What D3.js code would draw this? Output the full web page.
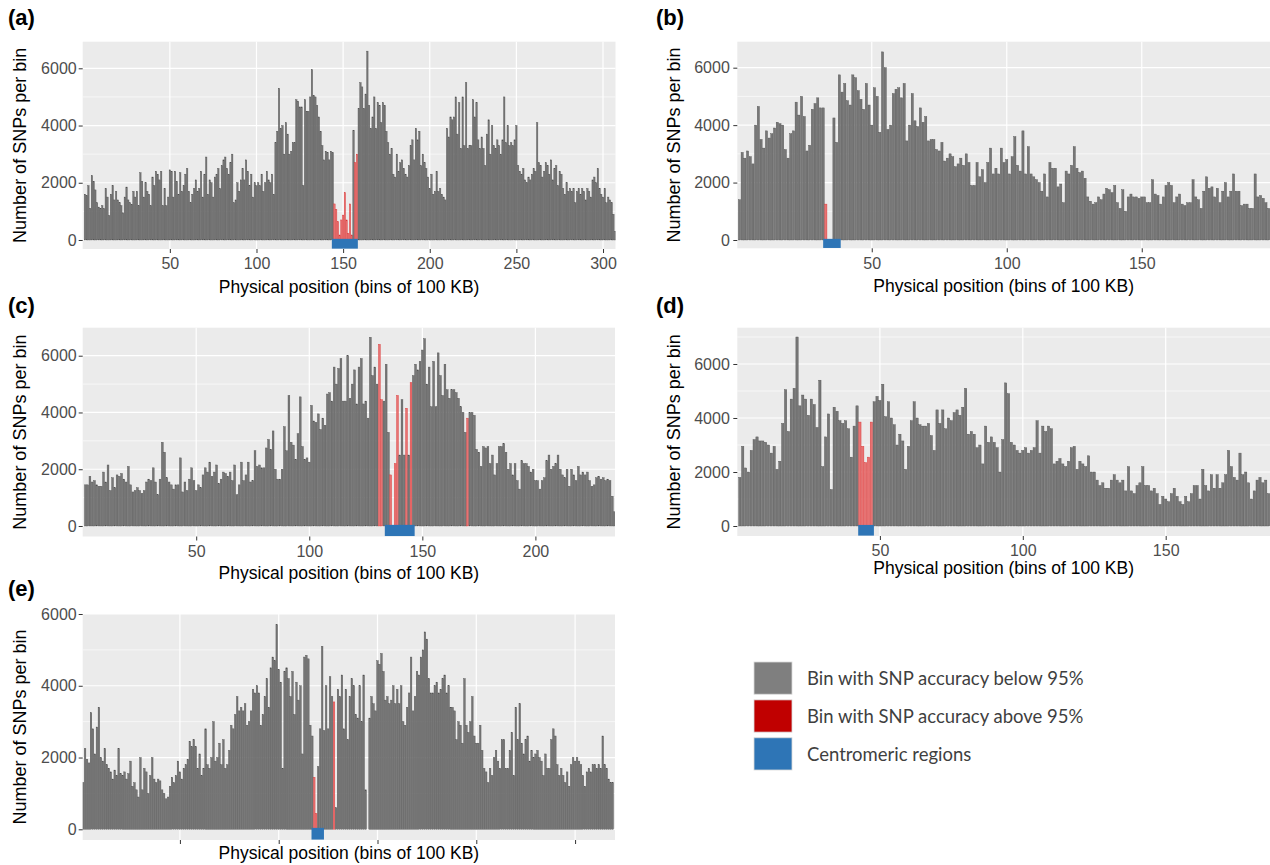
<!DOCTYPE html>
<html lang="en">
<head>
<meta charset="utf-8">
<title>SNPs per bin</title>
<script src="https://cdn.jsdelivr.net/npm/d3@7"></script>
<style>
body { margin: 0; background: #fff; }
svg { display: block; font-family: "Liberation Sans", Arial, sans-serif; }
.tick text { fill: #4d4d4d; font-size: 16px; }
.tick line { stroke: #333; }
.domain { display: none; }
.ttl { font-size: 17.5px; fill: #000; }
.lab { font-size: 22px; font-weight: bold; fill: #000; }
.leg { font-family: Lato, "Open Sans", sans-serif; font-size: 18.5px; fill: #3f3f3f; }
</style>
</head>
<body>
<svg id="chart" width="1270" height="865"></svg>
<script>
// ---- data: SNP counts per 100 KB bin ----
var aVals = [1600,1550,1900,1100,2250,2050,1750,1300,1150,1100,
  1200,1100,1800,1500,850,1600,1900,1400,1700,1400,
  1300,1200,950,1500,1850,1400,1300,1250,1700,1500,
  1700,1200,2350,2050,1500,2000,1700,1600,1200,2200,
  1900,2400,2300,2100,2400,1200,1800,1200,1500,2450,
  2400,1500,2400,2050,1600,2350,1700,1900,2300,2500,
  1700,1300,1600,1800,2100,1700,1800,2400,1500,2300,
  2900,1600,2100,2000,1500,2200,2300,2500,1800,2600,
  2800,2900,2500,2300,2700,3000,1300,1400,2000,1700,
  2100,2500,2100,2800,2400,1900,2300,1500,2000,1900,
  2000,1900,2300,1700,2000,2400,2100,2000,2300,1600,
  3400,3800,5300,3900,4000,3000,4100,3700,3000,3100,
  3400,3400,4900,4850,4650,4650,1900,4900,4500,4500,
  5000,5950,5050,5000,4700,4300,3800,3300,2800,3100,
  3050,2800,3100,3050,1260,1070,640,175,700,870,
  1650,700,230,1260,175,3830,2700,3000,4600,5500,
  5350,4600,5100,6600,4700,3900,4300,5000,3900,4800,
  4700,4100,4800,4700,3800,3400,3000,3200,2300,2200,
  3000,2400,2700,2800,2500,2300,2200,2600,3300,3500,
  2800,3900,3500,3800,2600,3000,2700,2500,2200,1800,
  2300,1600,1700,2400,1700,1800,1600,1500,1400,3900,
  3600,4300,4200,4300,5000,3700,4800,3200,5000,3300,
  5500,3200,3300,3300,4900,4300,4800,3500,3200,3600,
  3200,2600,3700,4200,3000,4000,3300,3200,3500,3300,
  3000,3500,5000,3400,4000,3300,3400,3300,3500,4000,
  2600,2400,2300,2500,2100,2000,2200,2100,2300,2500,
  2400,4100,2700,2600,2200,2400,2700,2600,2300,2800,
  2100,2500,2600,1900,2400,2300,1800,1600,2000,1700,
  1800,1700,1800,1300,1700,1800,1600,1800,1700,1400,
  1800,1700,1500,2100,2200,2000,2500,1800,1600,1500,
  1800,1300,1500,1400,1300,900,300];
var aRed = [145,146,147,148,149,150,151,152,153,154,155,157,158];
var aCent = [143.5, 158.5];
var aTicks = [50,100,150,200,250,300];

var bVals = [1400,3050,2850,3100,2900,2650,4000,4650,3500,3200,
  3800,3550,3700,3900,4100,4050,4000,3150,2850,3700,
  3800,4800,4350,5000,4300,3100,3300,4550,4750,4950,
  4600,4600,1250,0,0,4250,3400,5750,5150,5450,
  4850,4700,5750,5650,5200,4900,4550,5450,4700,4000,
  5300,5000,3750,6550,6000,3850,4000,5100,5250,5300,
  4950,5450,3450,4000,5100,4150,3950,4600,4100,4300,
  3450,3500,3500,3150,3100,3400,2750,2850,3000,2900,
  2550,2650,2850,2600,3000,2700,1900,1900,2700,2200,
  2450,2000,2700,3200,2300,2500,2300,3200,2700,2800,
  2300,2900,3600,2600,2400,3800,2300,3250,2300,2200,
  2100,2000,1700,2300,1500,2700,2500,2500,1850,1950,
  1300,2400,2300,2600,3250,2500,2350,2400,2150,1500,
  1350,1250,1300,1500,1400,1600,1800,1750,1650,1900,
  1300,1100,1750,1000,1500,1600,1500,1500,1450,1500,
  1500,1300,1300,2100,1600,1550,1250,1500,1900,2000,
  1900,1300,1500,1600,1250,1200,1300,1300,2100,1500,
  1400,1100,1700,2200,1800,1850,1500,1800,1300,1700,
  2000,1500,1700,2300,1700,1700,1200,1250,1250,1100,
  1100,2300,1500,1550,1450,1300,1100];
var bRed = [33];
var bCent = [32, 38.5];
var bTicks = [50,100,150];

var cVals = [1450,1450,1750,1550,1600,1450,1400,1400,1900,1550,
  2150,1250,1700,1350,1800,1750,1850,1650,1550,2100,
  1450,1200,1250,1350,1250,1150,1250,1550,1650,1600,
  2050,1550,1100,1650,2950,2600,1700,1550,1450,1300,
  1450,1450,2400,1200,1550,1250,1650,2050,1600,1250,
  1450,1350,1800,2050,1900,2250,1750,1900,2150,1500,
  1650,1900,1850,1750,1900,1600,2150,1100,1450,2250,
  1600,1800,2250,1550,1600,2650,2100,2150,2050,2050,
  2750,3050,2700,3350,2000,1650,1650,2000,3500,2650,
  4600,2950,2850,2350,3250,4550,2800,2350,2400,2250,
  4250,3700,3650,3950,3400,3800,3550,4650,4700,4400,
  5600,5000,5550,5900,4400,4400,6000,4500,5000,5500,
  4300,5600,5900,4300,4400,3800,6650,5300,5600,5000,
  6400,4450,4400,5700,3300,1800,0,2200,4600,2500,
  4450,2500,4150,2500,5050,5300,5700,5500,5800,6200,
  6600,5000,5600,4200,5800,4200,6100,5300,4600,5700,
  4800,4500,4800,4800,4700,4500,4200,4000,3300,3800,
  4000,4000,3900,2700,2600,2100,2800,2750,2800,2200,
  2500,1800,2200,2800,2800,2900,2600,2000,2200,1800,
  2200,1600,1300,2300,2200,2200,2100,1900,2000,1600,
  1600,1300,1600,1700,2300,2500,2000,2100,2200,2500,
  2000,1800,1700,2000,1400,2000,1800,1600,2100,1800,
  1900,1800,1900,1600,1400,1450,1700,1750,1650,1700,
  1600,1650,1600,1050,500];
var cRed = [131,132,136,138,139,143,145,170];
var cCent = [133.4, 146.6];
var cTicks = [50,100,150,200];

var dVals = [1800,2950,2150,2000,2800,3200,3300,3150,3150,3100,
  3000,2700,2950,2100,2400,3800,5050,3500,4700,5100,
  7000,4450,4850,4700,4100,4700,4500,3650,5400,2200,
  3300,4150,1350,4400,4250,3900,3800,3900,3600,2550,
  3700,4450,3850,2950,2350,2550,3850,4600,4800,4650,
  5250,4050,4600,4000,3750,3000,3400,3150,2100,2950,
  3900,4600,4000,3750,3700,3700,3800,3350,2800,4300,
  3800,4300,3600,4000,3900,4200,4300,4100,4400,5100,
  3400,3500,3400,2900,3000,2300,3700,3100,3300,3100,
  2900,2000,3200,5300,4900,3100,3000,2800,2700,2800,
  2900,2700,2800,2900,3900,2700,3700,3500,3700,3600,
  2300,2400,2500,2300,2200,2400,2900,2950,2100,2400,
  2300,2200,2600,2000,2000,1700,1500,1600,1400,1400,
  1700,1900,1700,1600,1700,1300,2200,1300,1200,1500,
  1600,2200,1500,1500,1300,1400,1200,800,1100,1000,
  900,1200,1400,1100,900,800,1100,900,1200,1500,
  1500,1000,2100,1500,1300,1900,1400,1900,1400,1600,
  1900,2800,2200,1800,1700,2700,1900,2000,1600,1000,
  1300,1700,1800,1600,1700,1200];
var dRed = [43,44,45,46,47];
var dCent = [42.4, 47.9];
var dTicks = [50,100,150];

var eVals = [1300,2250,1950,1850,3250,2800,2100,2850,3400,2000,
  1900,2250,1800,1700,1600,1400,1650,1500,2250,1550,
  1500,1600,1400,1550,1900,1200,1300,1100,900,2000,
  1100,1700,1600,1000,1500,2000,1400,1300,1400,1350,
  1100,1000,850,900,1200,1450,1300,1500,1900,1600,
  1400,1700,1800,1950,2450,2300,2500,2300,1700,2100,
  1500,1700,2800,1800,1700,2000,3000,1900,2000,2400,
  1800,2500,1700,1800,2200,2900,2800,3200,3700,3300,
  3400,3300,3500,2900,3000,3300,3900,3800,4000,3800,
  2900,3200,3700,4200,3400,4500,4800,4700,5700,4450,
  4100,1700,4400,4500,4200,3700,4400,3200,4100,3600,
  4000,2100,4800,4850,4750,2900,2600,1450,440,1750,
  2800,5100,2750,4000,2800,4250,3700,3550,600,3900,
  3700,4300,2800,3900,2500,3700,4200,4000,3200,3100,
  4000,3000,4300,1100,0,3100,3700,3500,3300,4700,
  4600,4900,4400,3600,3700,3500,3600,4000,3500,3900,
  3500,4000,3000,2900,3400,3800,4800,3300,3700,4400,
  4300,4800,5000,5500,5300,4200,3800,3800,4000,4100,
  3800,3900,4200,4300,3800,4000,3400,3400,3300,2500,
  3000,2900,2400,4200,2900,2700,3000,3700,2600,2400,
  2400,2900,2200,1700,1600,1300,1700,1500,2000,2200,
  1900,1700,2500,2500,1700,1700,2200,2700,1500,3400,
  2500,3500,2400,2100,2500,2600,1900,2200,2000,2100,
  2200,2000,1900,1500,2100,1700,1700,2500,2800,2600,
  1800,1500,1700,1500,1300,1600,1200,1800,2000,1900,
  2000,1900,1800,1500,1200,1600,1700,1600,1800,1800,
  1700,1800,1700,2600,1800,1700,1400,1300,1300];
var eRed = [118,119,128];
var eCent = [116.6, 122.9];
var eTicks = [50,100,150,200,250];

var yTicks = [0,2000,4000,6000];
var yMinorTicks = [1000,3000,5000,7000];
var legendLabels = ["Bin with SNP accuracy below 95%", "Bin with SNP accuracy above 95%", "Centromeric regions"];
var legendColors = ["#7f7f7f", "#c00000", "#2e75b6"];

// ---- layout ----
var panels = [
  {lab:"(a)", vals:aVals, red:aRed, cent:aCent, ticks:aTicks, showLab:true,
   box:[82.7,615.5,41.7,249], xdom:[-0.3,307.2], ydom:[-315,6930],
   labX:8, labY:25, yTitleX:20, xTitleY:293, yPad:2},
  {lab:"(b)", vals:bVals, red:bRed, cent:bCent, ticks:bTicks, showLab:true,
   box:[737.3,1270,41.7,248.3], xdom:[0.2,197.5], ydom:[-289,6905],
   labX:656, labY:25, yTitleX:674, xTitleY:292, yPad:3.5},
  {lab:"(c)", vals:cVals, red:cRed, cent:cCent, ticks:cTicks, showLab:true,
   box:[82.7,615,327.7,536.5], xdom:[-0.2,235.2], ydom:[-370,6987],
   labX:8, labY:313, yTitleX:20, xTitleY:579, yPad:2},
  {lab:"(d)", vals:dVals, red:dRed, cent:dCent, ticks:dTicks, showLab:true,
   box:[737.3,1270,327.7,536], xdom:[0.1,186.5], ydom:[-370,7344],
   labX:656, labY:313, yTitleX:674, xTitleY:574, yPad:3.5},
  {lab:"(e)", vals:eVals, red:eRed, cent:eCent, ticks:eTicks, showLab:false,
   box:[82.7,615,614,840], xdom:[0.8,270.2], ydom:[-298,6000],
   labX:8, labY:596, yTitleX:20, xTitleY:858.5, yPad:2}
];

var svg = d3.select("#chart");

panels.forEach(function(p, k) {
  var x0 = p.box[0], x1 = p.box[1], y0 = p.box[2], y1 = p.box[3];
  var x = d3.scaleLinear().domain(p.xdom).range([x0, x1]);
  var y = d3.scaleLinear().domain(p.ydom).range([y1, y0]);
  var g = svg.append("g");

  g.append("clipPath").attr("id", "clip" + k)
    .append("rect").attr("x", x0).attr("y", y0).attr("width", x1 - x0).attr("height", y1 - y0);

  // panel background
  g.append("rect").attr("x", x0).attr("y", y0)
    .attr("width", x1 - x0).attr("height", y1 - y0).attr("fill", "#ebebeb");

  // grid
  g.selectAll(".gmin").data(yMinorTicks.filter(function(v) { return v < p.ydom[1]; }))
    .join("line").attr("x1", x0).attr("x2", x1)
    .attr("y1", function(d) { return y(d); }).attr("y2", function(d) { return y(d); })
    .attr("stroke", "#fff").attr("stroke-width", 0.6);
  g.selectAll(".gmaj").data(yTicks.filter(function(v) { return v <= p.ydom[1]; }))
    .join("line").attr("x1", x0).attr("x2", x1)
    .attr("y1", function(d) { return y(d); }).attr("y2", function(d) { return y(d); })
    .attr("stroke", "#fff").attr("stroke-width", 1.2);
  g.selectAll(".gx").data(p.ticks)
    .join("line").attr("y1", y0).attr("y2", y1)
    .attr("x1", function(d) { return x(d); }).attr("x2", function(d) { return x(d); })
    .attr("stroke", "#fff").attr("stroke-width", 1.2);

  // bars
  var bars = p.vals.map(function(v, i) { return {bin: i + 1, v: v, red: p.red.indexOf(i + 1) >= 0}; })
    .filter(function(d) { return d.v > 0; });
  var bg = g.append("g").attr("clip-path", "url(#clip" + k + ")");
  bg.selectAll("rect").data(bars).join("rect")
    .attr("x", function(d) { return x(d.bin - 0.4); })
    .attr("width", function(d) { return x(d.bin + 0.4) - x(d.bin - 0.4); })
    .attr("y", function(d) { return y(d.v); })
    .attr("height", function(d) { return y(0) - y(d.v); })
    .attr("fill", function(d) { return d.red ? "#e87272" : "#777"; })
    .attr("stroke", function(d) { return d.red ? "#d93030" : "#4f4f4f"; })
    .attr("stroke-width", 0.4);

  // centromere
  bg.append("rect")
    .attr("x", x(p.cent[0])).attr("width", x(p.cent[1]) - x(p.cent[0]))
    .attr("y", y(40)).attr("height", y(p.ydom[0] * 0.96) - y(40))
    .attr("fill", "#2e75b6");

  // axes
  g.append("g").attr("transform", "translate(" + x0 + ",0)")
    .call(d3.axisLeft(y).tickValues(yTicks).tickSize(4).tickPadding(p.yPad).tickFormat(d3.format("d")));
  g.append("g").attr("transform", "translate(0," + y1 + ")")
    .call(d3.axisBottom(x).tickValues(p.ticks).tickSize(4).tickPadding(5)
      .tickFormat(p.showLab ? d3.format("d") : function() { return ""; }));

  // titles
  g.append("text").attr("class", "ttl")
    .attr("x", (x0 + x1) / 2).attr("y", p.xTitleY).attr("text-anchor", "middle")
    .text("Physical position (bins of 100 KB)");
  g.append("text").attr("class", "ttl").style("font-size", "18px")
    .attr("transform", "translate(" + p.yTitleX + "," + ((y0 + y1) / 2) + ") rotate(-90)")
    .attr("text-anchor", "middle").attr("dominant-baseline", "central")
    .text("Number of SNPs per bin");
  g.append("text").attr("class", "lab").attr("x", p.labX).attr("y", p.labY).text(p.lab);
});

// ---- legend ----
var leg = svg.append("g");
var ly = d3.scaleBand().domain(legendLabels).range([662, 770]).paddingInner(0.15);
leg.selectAll("rect").data(legendLabels).join("rect")
  .attr("x", 754).attr("y", function(d) { return ly(d); })
  .attr("width", 38).attr("height", ly.bandwidth())
  .attr("fill", function(d, i) { return legendColors[i]; })
  .attr("stroke", "#d9d9d9").attr("stroke-width", 0.8);
leg.selectAll("text").data(legendLabels).join("text").attr("class", "leg")
  .attr("x", 807).attr("y", function(d) { return ly(d) + ly.bandwidth() / 2 + 7; })
  .text(function(d) { return d; });
</script>
</body>
</html>
